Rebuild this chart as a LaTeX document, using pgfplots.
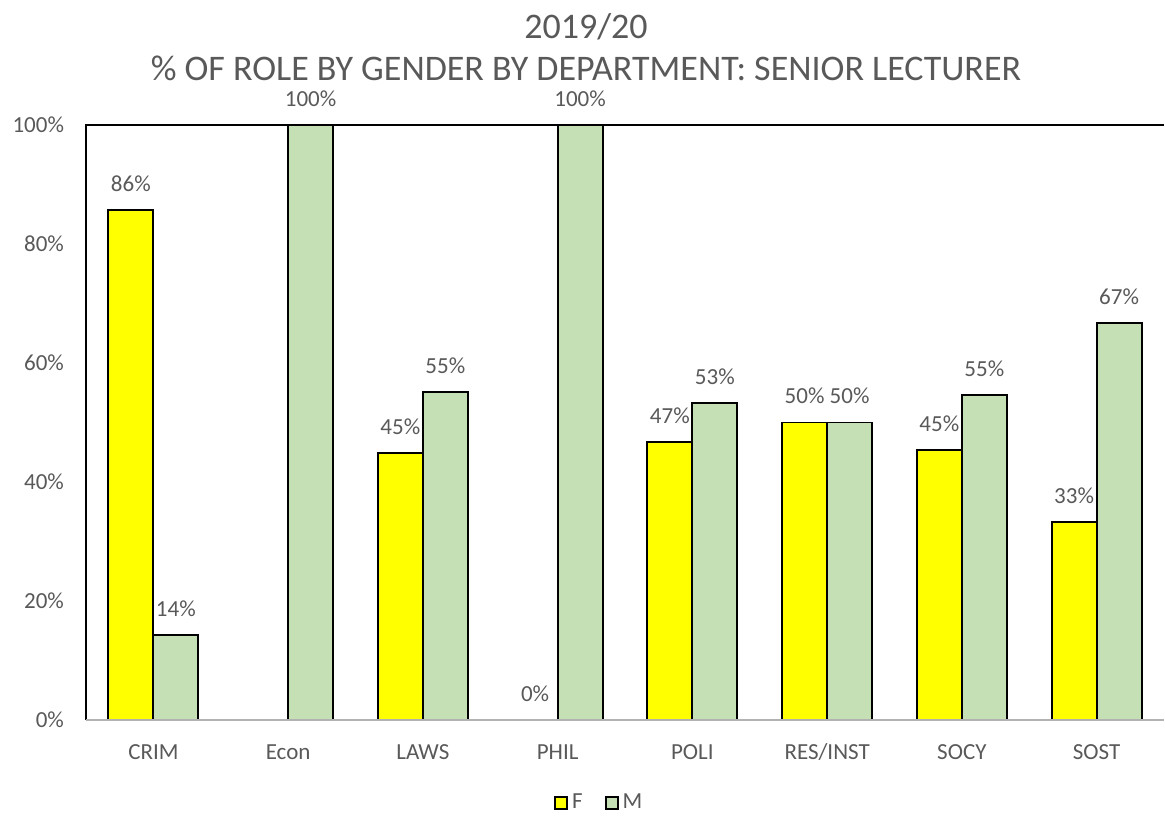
\documentclass[border=0pt]{standalone}
\usepackage{fontspec}
\setmainfont{Carlito}
\usepackage{pgfplots}
\pgfplotsset{compat=1.18}
\definecolor{txt}{HTML}{595959}
\definecolor{fbar}{HTML}{FFFF00}
\definecolor{mbar}{HTML}{C5E0B4}
\newcommand{\lblfont}{\fontsize{11.5}{13}\selectfont}

\begin{document}
\begin{tikzpicture}
\useasboundingbox (-43pt,-49.5pt) rectangle (539.5pt,360pt);
\begin{axis}[
    at={(0,0)}, anchor=south west,
    scale only axis, width=539pt, height=297.5pt,
    xmin=-0.5, xmax=7.5, ymin=0, ymax=100,
    ybar=0pt, bar width=22.5pt,
    xtick={0,...,7},
    xticklabels={CRIM,Econ,LAWS,PHIL,POLI,RES/INST,SOCY,SOST},
    ytick={0,20,...,100},
    yticklabels={0\%,20\%,40\%,60\%,80\%,100\%},
    major tick length=0pt,
    axis line style={draw=none},
    tick label style={font=\lblfont, text=txt},
    xticklabel style={anchor=base, yshift=-19.5pt},
    yticklabel style={xshift=-7.5pt},
    clip=false,
    nodes near coords,
    point meta=explicit symbolic,
    every node near coord/.append style={font=\lblfont, text=txt, yshift=5.5pt},
    legend style={at={(0.477,-0.139)}, anchor=center, draw=none,
                  font=\lblfont, text=txt,
                  /tikz/every even column/.append style={column sep=9pt}},
    legend columns=2,
    legend image code/.code={\draw[#1, line width=1pt] (0pt,-3pt) rectangle (6pt,3pt);},
]
\addplot[fill=fbar, draw=black, line width=0.9pt] coordinates {
    (0,85.7) [86\%]
    (2,44.9) [45\%]
    (3,0)    [0\%]
    (4,46.7) [47\%]
    (5,50.0) [50\%]
    (6,45.4) [45\%]
    (7,33.3) [33\%]
};
\addlegendentry{F}
\addplot[fill=mbar, draw=black, line width=0.9pt] coordinates {
    (0,14.3)  [14\%]
    (1,100)   [100\%]
    (2,55.1)  [55\%]
    (3,100)   [100\%]
    (4,53.3)  [53\%]
    (5,50.0)  [50\%]
    (6,54.6)  [55\%]
    (7,66.7)  [67\%]
};
\addlegendentry{M}
% axis frame: black left and top, grey baseline
\draw[black, line width=0.9pt] (rel axis cs:0,0) -- (rel axis cs:0,1) -- (rel axis cs:1,1);
\draw[gray!60, line width=0.9pt] (rel axis cs:0,0) -- (rel axis cs:1,0);
\end{axis}
\node[anchor=base, font=\fontsize{18}{22}\selectfont, text=txt] at (250pt,340.5pt) {2019/20};
\node[anchor=base, font=\fontsize{18}{22}\selectfont, text=txt] at (250pt,319.5pt) {\% OF ROLE BY GENDER BY DEPARTMENT: SENIOR LECTURER};
\end{tikzpicture}
\end{document}
